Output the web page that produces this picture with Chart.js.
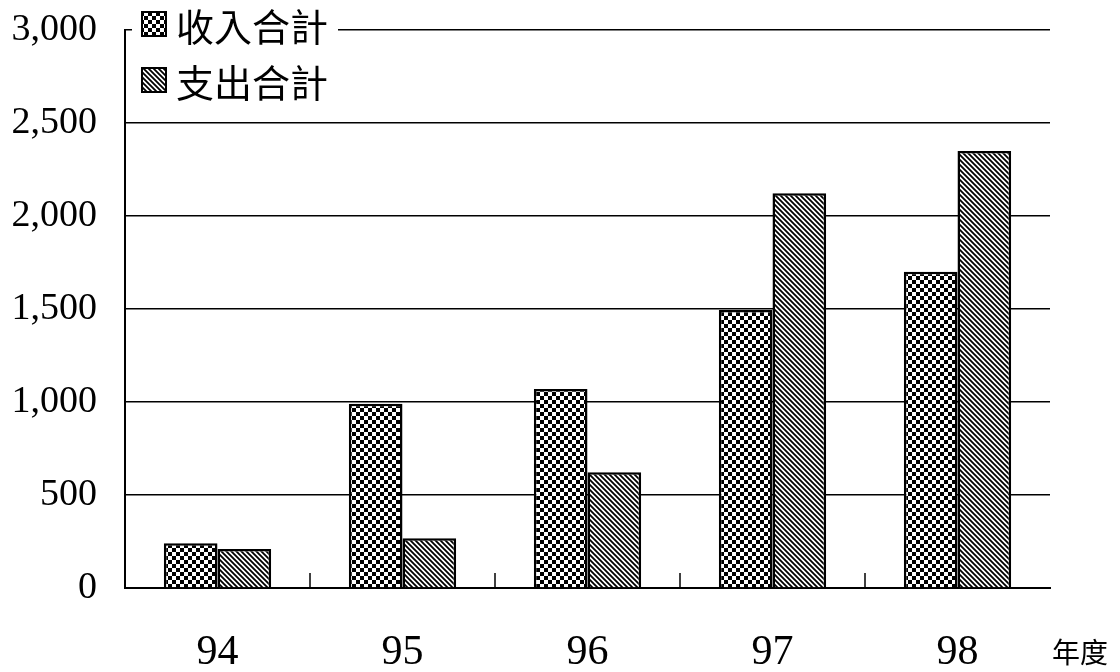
<!DOCTYPE html>
<html>
<head>
<meta charset="utf-8">
<title>收入支出合計</title>
<style>
  html, body { margin: 0; padding: 0; background: #fff; }
  #wrap { position: relative; width: 1120px; height: 672px; }
</style>
</head>
<body>
<div id="wrap"><canvas id="myChart" width="1120" height="672"></canvas></div>
<script src="https://cdn.jsdelivr.net/npm/chart.js@4.4.1/dist/chart.umd.min.js"></script>
<script>
// data
const years = ['94', '95', '96', '97', '98'];
const income = [240, 990, 1070, 1495, 1700];   // 收入合計
const expense = [210, 268, 622, 2122, 2350];   // 支出合計
const seriesNames = ['收入合計', '支出合計'];
const yTicks = [0, 500, 1000, 1500, 2000, 2500, 3000];
const xTitle = '年度';

// fill patterns
function checker() {
    var c = document.createElement('canvas');
    c.width = 8; c.height = 8;
    var g = c.getContext('2d');
    g.fillStyle = '#fff'; g.fillRect(0, 0, 8, 8);
    g.fillStyle = '#000';
    g.fillRect(0, 0, 4, 4);
    g.fillRect(4, 4, 4, 4);
    return g.createPattern(c, 'repeat');
}
function hatch() {
    var c = document.createElement('canvas');
    c.width = 5; c.height = 5;
    var g = c.getContext('2d');
    g.fillStyle = '#fff'; g.fillRect(0, 0, 5, 5);
    g.strokeStyle = '#000'; g.lineWidth = 1.8;
    g.beginPath();
    g.moveTo(-1, -1); g.lineTo(6, 6);
    g.moveTo(-1, 4); g.lineTo(1, 6);
    g.moveTo(4, -1); g.lineTo(6, 1);
    g.stroke();
    return g.createPattern(c, 'repeat');
}
var fills = [checker(), hatch()];

// legend inside the plot, x-axis boundary ticks, 年度 label
var extras = {
    id: 'extras',
    afterDraw: function(chart) {
        var ctx = chart.ctx, area = chart.chartArea, xs = chart.scales.x;
        ctx.save();
        // small upward ticks between categories
        ctx.strokeStyle = '#000'; ctx.lineWidth = 1.5;
        for (var i = 0; i < years.length - 1; i++) {
            var bx = (xs.getPixelForTick(i) + xs.getPixelForTick(i + 1)) / 2;
            ctx.beginPath();
            ctx.moveTo(bx, area.bottom); ctx.lineTo(bx, area.bottom - 15);
            ctx.stroke();
        }
        // legend box (covers the top gridline)
        ctx.fillStyle = '#fff';
        ctx.fillRect(area.left + 7, area.top - 24, 206, 88);
        ctx.font = '38px "Noto Sans CJK TC"';
        ctx.textBaseline = 'middle';
        for (var k = 0; k < seriesNames.length; k++) {
            var sy = area.top - 18 + k * 56;
            ctx.fillStyle = fills[k];
            ctx.fillRect(area.left + 17, sy, 24, 24);
            ctx.lineWidth = 2; ctx.strokeStyle = '#000';
            ctx.strokeRect(area.left + 17, sy, 24, 24);
            ctx.fillStyle = '#000';
            ctx.fillText(seriesNames[k], area.left + 51, sy + 15);
        }
        // 年度
        ctx.font = '28px "Noto Sans CJK TC"';
        ctx.fillText(xTitle, area.right + 2, 652);
        ctx.restore();
    }
};

var ctx = document.getElementById('myChart').getContext('2d');
var chart = new Chart(ctx, {
    type: 'bar',
    data: {
        labels: years,
        datasets: [{
            label: seriesNames[0],
            data: income,
            backgroundColor: fills[0],
            borderColor: '#000',
            borderWidth: 2.5,
            borderSkipped: 'bottom'
        }, {
            label: seriesNames[1],
            data: expense,
            backgroundColor: fills[1],
            borderColor: '#000',
            borderWidth: 2.5,
            borderSkipped: 'bottom'
        }]
    },
    plugins: [extras],
    options: {
        responsive: false,
        animation: false,
        layout: { padding: { left: 10, right: 70, top: 30, bottom: 0 } },
        plugins: { legend: { display: false }, tooltip: { enabled: false } },
        datasets: { bar: { categoryPercentage: 0.58, barPercentage: 1 } },
        scales: {
            x: {
                afterFit: function(scale) { scale.height = 84; scale.paddingLeft = 0; scale.paddingRight = 0; },
                grid: { display: false },
                border: { display: true, color: '#000', width: 2 },
                ticks: { color: '#000', padding: 32, font: { family: '"Liberation Serif"', size: 42 } }
            },
            y: {
                min: 0, max: 3000,
                afterFit: function(scale) { scale.width = 115; scale.paddingTop = 0; scale.paddingBottom = 0; },
                afterBuildTicks: function(axis) { axis.ticks = yTicks.map(function(v) { return { value: v }; }); },
                grid: { color: '#000', lineWidth: 1.5, drawTicks: false },
                border: { display: true, color: '#000', width: 2 },
                ticks: {
                    color: '#000', padding: 28,
                    font: { family: '"Liberation Serif"', size: 38 },
                    callback: function(v) { return Number(v).toLocaleString('en-US'); }
                }
            }
        }
    }
});
</script>
</body>
</html>
